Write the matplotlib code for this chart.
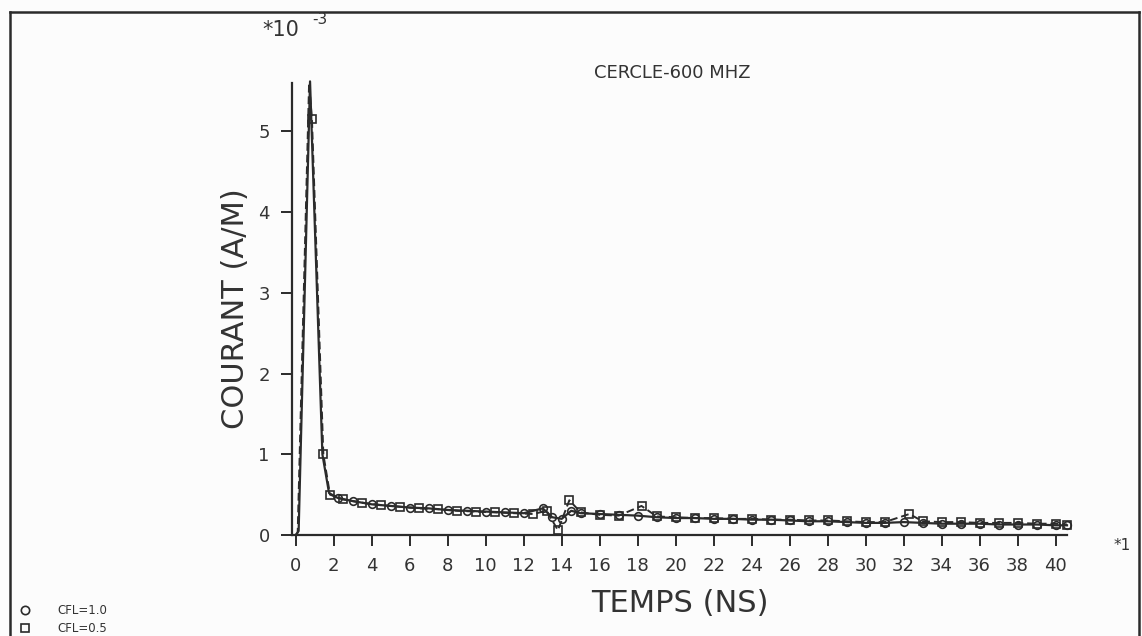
import matplotlib
matplotlib.use("Agg")
import matplotlib.pyplot as plt
from matplotlib.lines import Line2D

# CFL=1.0 : solid line, circle markers
t_cfl10 = [0, 0.15, 0.75, 1.4, 1.75, 2.2, 3, 4, 5, 6, 7, 8, 9, 10, 11, 12, 13,
           13.5, 14, 14.5, 15, 16, 17, 18, 19, 20, 21, 22, 23, 24, 25, 26, 27,
           28, 29, 30, 31, 32, 33, 34, 35, 36, 37, 38, 39, 40, 40.6]
v_cfl10 = [0, 0.05, 5.62, 1.0, 0.52, 0.46, 0.42, 0.38, 0.36, 0.34, 0.33, 0.31,
           0.30, 0.29, 0.28, 0.27, 0.33, 0.22, 0.20, 0.30, 0.27, 0.26, 0.25,
           0.24, 0.22, 0.21, 0.21, 0.20, 0.20, 0.19, 0.19, 0.18, 0.17, 0.17,
           0.16, 0.15, 0.15, 0.16, 0.15, 0.14, 0.14, 0.14, 0.13, 0.13, 0.13,
           0.12, 0.12]

# CFL=0.5 : dashed line, square markers
t_cfl05 = [0, 0.1, 0.7, 0.85, 1.45, 1.8, 2.5, 3.5, 4.5, 5.5, 6.5, 7.5, 8.5,
           9.5, 10.5, 11.5, 12.5, 13.2, 13.8, 14.4, 15, 16, 17, 18.2, 19, 20,
           21, 22, 23, 24, 25, 26, 27, 28, 29, 30, 31, 32.3, 33, 34, 35, 36,
           37, 38, 39, 40, 40.6]
v_cfl05 = [0, 0.03, 5.6, 5.15, 1.0, 0.5, 0.44, 0.40, 0.37, 0.35, 0.33, 0.32,
           0.30, 0.29, 0.28, 0.27, 0.26, 0.30, 0.06, 0.43, 0.28, 0.25, 0.24,
           0.36, 0.23, 0.22, 0.21, 0.21, 0.20, 0.20, 0.19, 0.19, 0.18, 0.18,
           0.17, 0.16, 0.16, 0.26, 0.17, 0.16, 0.16, 0.15, 0.15, 0.15, 0.14,
           0.14, 0.13]

x_ticks = list(range(0, 41, 2))
y_ticks = [0, 1, 2, 3, 4, 5]

ink = "#2b2b2b"
W, H = 1142, 636

fig = plt.figure(figsize=(W / 100, H / 100), dpi=100)
fig.patch.set_facecolor("#fcfcfc")

# axes box placed in pixel terms: y axis at x=292, x axis at y=535
ax = fig.add_axes([292 / W, (H - 535) / H, 775 / W, 452 / H])
ax.set_facecolor("none")

ax.plot(t_cfl10, v_cfl10, color=ink, lw=1.6, marker="o", ms=5.5,
        mfc="none", mec=ink, mew=1.2, markevery=list(range(5, len(t_cfl10))),
        clip_on=False)
ax.plot(t_cfl05, v_cfl05, color=ink, lw=1.4, ls=(0, (4, 2)), marker="s",
        ms=5.5, mfc="none", mec=ink, mew=1.2,
        markevery=list(range(3, len(t_cfl05))), clip_on=False)

ax.set_xlim(-0.2, 40.6)
ax.set_ylim(0, 5.6)
ax.set_xticks(x_ticks)
ax.set_yticks(y_ticks)
for s in ["top", "right"]:
    ax.spines[s].set_visible(False)
for s in ["left", "bottom"]:
    ax.spines[s].set_color(ink)
    ax.spines[s].set_linewidth(1.6)
ax.tick_params(axis="both", colors=ink, labelcolor="#333333", labelsize=13,
               length=8, width=1.4, direction="out")
ax.tick_params(axis="x", pad=8)
ax.tick_params(axis="y", pad=8)

ax.set_xlabel("TEMPS (NS)", fontsize=22, color="#333333", labelpad=10)
ax.set_ylabel("COURANT (A/M)", fontsize=22, color="#333333", labelpad=6)

# texts around the plot
fig.text(672 / W, 1 - 73 / H, "CERCLE-600 MHZ", fontsize=13, color="#333333",
         ha="center", va="center")
fig.text(262 / W, 1 - 30 / H, "*10", fontsize=15, color="#333333",
         ha="left", va="center")
fig.text(312 / W, 1 - 20 / H, "-3", fontsize=11, color="#333333",
         ha="left", va="center")
fig.text(1114 / W, 1 - 546 / H, "*1", fontsize=11, color="#333333",
         ha="left", va="center")

# legend in bottom-left corner
fig.add_artist(Line2D([25 / W], [1 - 610 / H], marker="o", ms=6, mfc="none",
                      mec=ink, mew=1.2, transform=fig.transFigure))
fig.add_artist(Line2D([25 / W], [1 - 628 / H], marker="s", ms=6, mfc="none",
                      mec=ink, mew=1.2, transform=fig.transFigure))
fig.text(57 / W, 1 - 610 / H, "CFL=1.0", fontsize=8.5, color="#333333",
         va="center")
fig.text(57 / W, 1 - 628 / H, "CFL=0.5", fontsize=8.5, color="#333333",
         va="center")

# frame of the scanned page
fig.add_artist(Line2D([10 / W, 1139 / W], [1 - 12 / H, 1 - 12 / H],
                      color=ink, lw=1.8, transform=fig.transFigure))
fig.add_artist(Line2D([10 / W, 10 / W], [0, 1 - 12 / H],
                      color=ink, lw=1.8, transform=fig.transFigure))
fig.add_artist(Line2D([1139 / W, 1139 / W], [0, 1 - 12 / H],
                      color=ink, lw=1.8, transform=fig.transFigure))

fig.savefig("out.png", dpi=100, facecolor=fig.get_facecolor())
